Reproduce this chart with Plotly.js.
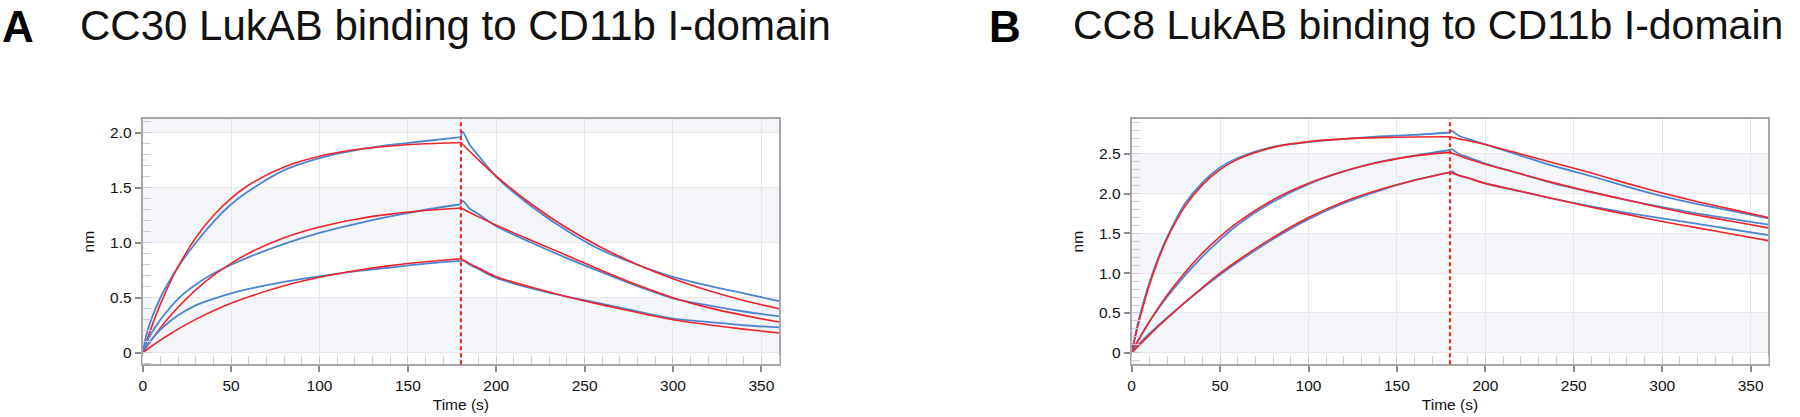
<!DOCTYPE html>
<html>
<head>
<meta charset="utf-8">
<script src="https://cdn.plot.ly/plotly-3.0.1.min.js"></script>
<style>
  html, body { margin: 0; padding: 0; background: #fff; }
  #chart { width: 1800px; height: 417px; }
</style>
</head>
<body>
<div id="chart"></div>
<script>
// time points (s); association 0-180, dissociation 180-360
const timeFit = [0, 2, 5, 10, 15, 20, 30, 40, 50, 60, 80, 100, 120, 140, 160, 180,
  185, 190, 200, 220, 240, 260, 280, 300, 320, 340, 360];
const timeData = [0, 2, 5, 10, 15, 20, 30, 40, 50, 60, 80, 100, 120, 140, 160, 180,
  181, 185, 190, 200, 220, 240, 260, 280, 300, 320, 340, 360];

// CC30 LukAB (nm) – red = fit, blue = measured
const cc30HighFit = [0, 0.098, 0.235, 0.442, 0.623, 0.783, 1.045, 1.248, 1.404, 1.525, 1.689, 1.787, 1.845, 1.879, 1.900, 1.912,
  1.830, 1.753, 1.606, 1.350, 1.134, 0.953, 0.801, 0.673, 0.566, 0.475, 0.400];
const cc30HighData = [0, 0.16, 0.31, 0.50, 0.65, 0.78, 1.00, 1.19, 1.35, 1.47, 1.66, 1.77, 1.84, 1.89, 1.925, 1.96,
  2.01, 1.89, 1.79, 1.60, 1.33, 1.11, 0.93, 0.80, 0.69, 0.61, 0.54, 0.47];
const cc30MidFit = [0, 0.048, 0.118, 0.226, 0.324, 0.414, 0.572, 0.703, 0.813, 0.905, 1.045, 1.143, 1.212, 1.260, 1.293, 1.316,
  1.275, 1.235, 1.16, 1.02, 0.885, 0.745, 0.615, 0.50, 0.41, 0.34, 0.28];
const cc30MidData = [0, 0.09, 0.18, 0.30, 0.40, 0.49, 0.62, 0.72, 0.80, 0.87, 0.99, 1.09, 1.17, 1.24, 1.30, 1.35,
  1.38, 1.31, 1.26, 1.15, 1.00, 0.86, 0.73, 0.605, 0.495, 0.43, 0.375, 0.33];
const cc30LowFit = [0, 0.024, 0.059, 0.114, 0.166, 0.215, 0.303, 0.381, 0.449, 0.509, 0.609, 0.686, 0.745, 0.792, 0.827, 0.855,
  0.81, 0.77, 0.69, 0.595, 0.51, 0.435, 0.365, 0.30, 0.255, 0.215, 0.18];
const cc30LowData = [0, 0.06, 0.12, 0.21, 0.28, 0.34, 0.43, 0.49, 0.54, 0.58, 0.645, 0.695, 0.74, 0.775, 0.81, 0.835,
  0.84, 0.80, 0.76, 0.68, 0.585, 0.51, 0.445, 0.375, 0.31, 0.28, 0.25, 0.23];

// CC8 LukAB (nm)
const cc8HighFit = [0, 0.196, 0.464, 0.849, 1.168, 1.433, 1.834, 2.111, 2.302, 2.432, 2.583, 2.655, 2.690, 2.706, 2.713, 2.717,
  2.69, 2.67, 2.62, 2.50, 2.38, 2.26, 2.13, 2.01, 1.90, 1.80, 1.70];
const cc8HighData = [0, 0.22, 0.50, 0.88, 1.19, 1.45, 1.87, 2.14, 2.33, 2.45, 2.59, 2.65, 2.69, 2.72, 2.74, 2.77,
  2.79, 2.73, 2.69, 2.62, 2.48, 2.34, 2.22, 2.09, 1.97, 1.87, 1.78, 1.69];
const cc8MidFit = [0, 0.083, 0.202, 0.389, 0.562, 0.723, 1.007, 1.252, 1.461, 1.639, 1.923, 2.131, 2.283, 2.395, 2.476, 2.52,
  2.48, 2.44, 2.37, 2.25, 2.13, 2.02, 1.92, 1.82, 1.73, 1.65, 1.57];
const cc8MidData = [0, 0.09, 0.21, 0.39, 0.55, 0.70, 0.97, 1.21, 1.42, 1.61, 1.90, 2.12, 2.28, 2.40, 2.48, 2.55,
  2.56, 2.50, 2.46, 2.38, 2.25, 2.12, 2.02, 1.92, 1.83, 1.75, 1.68, 1.61];
const cc8LowFit = [0, 0.045, 0.11, 0.22, 0.33, 0.43, 0.63, 0.82, 1.00, 1.16, 1.45, 1.70, 1.90, 2.05, 2.17, 2.27,
  2.23, 2.20, 2.13, 2.03, 1.93, 1.83, 1.74, 1.65, 1.57, 1.49, 1.41];
const cc8LowData = [0, 0.06, 0.13, 0.24, 0.34, 0.44, 0.63, 0.81, 0.98, 1.14, 1.43, 1.68, 1.88, 2.04, 2.17, 2.27,
  2.28, 2.23, 2.20, 2.13, 2.03, 1.93, 1.84, 1.76, 1.69, 1.62, 1.55, 1.48];

const switchTime = 180;
const xTickVals = [0, 50, 100, 150, 200, 250, 300, 350];
const cc30YTicks = [0, 0.5, 1, 1.5, 2];
const cc30YLabels = ['0', '0.5', '1.0', '1.5', '2.0'];
const cc8YTicks = [0, 0.5, 1, 1.5, 2, 2.5];
const cc8YLabels = ['0', '0.5', '1.0', '1.5', '2.0', '2.5'];
const cc30Title = 'CC30 LukAB binding to CD11b I-domain';
const cc8Title = 'CC8 LukAB binding to CD11b I-domain';

const FONT = 'Liberation Sans, Arial, Helvetica, sans-serif';
const BLUE = '#4b85d3';
const RED = '#f2232a';

// split a curve at the 180 s switch so each phase gets its own smooth line
function phaseTraces(t, y, color, width, xa, ya) {
  const k = t.indexOf(switchTime);
  const parts = [[0, k + 1], [k, t.length]];
  return parts.map(([a, b]) => ({
    type: 'scatter',
    mode: 'lines',
    x: t.slice(a, b),
    y: y.slice(a, b),
    xaxis: xa,
    yaxis: ya,
    line: { color: color, width: width, shape: 'spline', smoothing: 0.8 },
    hoverinfo: 'skip',
  }));
}

const traces = [];
[
  [cc30HighData, cc30HighFit], [cc30MidData, cc30MidFit], [cc30LowData, cc30LowFit],
].forEach(([d, f]) => {
  traces.push(...phaseTraces(timeData, d, BLUE, 1.8, 'x', 'y'));
  traces.push(...phaseTraces(timeFit, f, RED, 1.6, 'x', 'y'));
});
[
  [cc8HighData, cc8HighFit], [cc8MidData, cc8MidFit], [cc8LowData, cc8LowFit],
].forEach(([d, f]) => {
  traces.push(...phaseTraces(timeData, d, BLUE, 1.8, 'x2', 'y2'));
  traces.push(...phaseTraces(timeFit, f, RED, 1.6, 'x2', 'y2'));
});

const tickFont = { family: FONT, size: 15.5, color: '#111' };

function xAxis(domain, anchor) {
  return {
    domain: domain,
    anchor: anchor,
    range: [0, 360],
    tickmode: 'array',
    tickvals: xTickVals,
    ticks: 'outside',
    ticklen: 6,
    tickwidth: 2,
    tickcolor: '#8c8c8c',
    showline: true,
    linecolor: '#a6a6a6',
    linewidth: 2,
    mirror: true,
    showgrid: true,
    gridcolor: '#e8e8e8',
    gridwidth: 1,
    zeroline: false,
    tickfont: tickFont,
    title: { text: 'Time (s)', font: tickFont, standoff: 6 },
    minor: { tickmode: 'linear', tick0: 0, dtick: 10, ticks: 'inside', ticklen: 8, tickwidth: 1, tickcolor: '#cdc9ea', showgrid: false },
  };
}

function yAxis(domain, anchor, range, vals, labels) {
  return {
    domain: domain,
    anchor: anchor,
    range: range,
    tickmode: 'array',
    tickvals: vals,
    ticktext: labels,
    ticks: 'outside',
    ticklen: 6,
    tickwidth: 2,
    tickcolor: '#8c8c8c',
    showline: true,
    linecolor: '#a6a6a6',
    linewidth: 2,
    mirror: true,
    showgrid: true,
    gridcolor: '#e8e8e8',
    gridwidth: 1,
    zeroline: false,
    tickfont: tickFont,
    title: { text: 'nm', font: tickFont, standoff: 12 },
    minor: { tickmode: 'linear', tick0: 0, dtick: 0.1, ticks: 'inside', ticklen: 8, tickwidth: 1, tickcolor: '#cdc9ea', showgrid: false },
  };
}

// light alternating bands behind the plot
function bands(xref, yref, ticks, top) {
  const out = [];
  for (let i = 0; i < ticks.length; i += 2) {
    out.push({
      type: 'rect', layer: 'below', xref: xref + ' domain', yref: yref,
      x0: 0, x1: 1, y0: ticks[i], y1: i + 1 < ticks.length ? ticks[i + 1] : top,
      fillcolor: '#f4f6f9', line: { width: 0 },
    });
  }
  return out;
}

const shapes = [
  ...bands('x', 'y', cc30YTicks, 3),
  ...bands('x2', 'y2', cc8YTicks, 3),
  { type: 'line', xref: 'x', yref: 'y domain', x0: switchTime, x1: switchTime, y0: 0, y1: 1,
    line: { color: '#ee2a24', width: 2.2, dash: '4px,3px' } },
  { type: 'line', xref: 'x2', yref: 'y2 domain', x0: switchTime, x1: switchTime, y0: 0, y1: 1,
    line: { color: '#ee2a24', width: 2.2, dash: '4px,3px' } },
];

const annotations = [
  { text: '<b>A</b>', xref: 'paper', yref: 'paper', x: 0, y: 1.0, xanchor: 'left', yanchor: 'top',
    showarrow: false, font: { family: FONT, size: 44, color: '#000' } },
  { text: cc30Title, xref: 'paper', yref: 'paper', x: 78 / 1800, y: 1.0, xanchor: 'left', yanchor: 'top',
    showarrow: false, font: { family: FONT, size: 42, color: '#111' } },
  { text: '<b>B</b>', xref: 'paper', yref: 'paper', x: 987 / 1800, y: 1.0, xanchor: 'left', yanchor: 'top',
    showarrow: false, font: { family: FONT, size: 44, color: '#000' } },
  { text: cc8Title, xref: 'paper', yref: 'paper', x: 1071 / 1800, y: 1.0, xanchor: 'left', yanchor: 'top',
    showarrow: false, font: { family: FONT, size: 41, color: '#111' } },
];

const yDomain = [0.1264, 0.7146];
const layout = {
  width: 1800,
  height: 417,
  margin: { l: 0, r: 0, t: 0, b: 0 },
  paper_bgcolor: '#fff',
  plot_bgcolor: '#fff',
  showlegend: false,
  xaxis: xAxis([0.0793, 0.4328], 'y'),
  yaxis: yAxis(yDomain, 'x', [-0.105, 2.125], cc30YTicks, cc30YLabels),
  xaxis2: xAxis([0.6287, 0.9824], 'y2'),
  yaxis2: yAxis(yDomain, 'x2', [-0.146, 2.94], cc8YTicks, cc8YLabels),
  shapes: shapes,
  annotations: annotations,
};

Plotly.newPlot('chart', traces, layout, { staticPlot: true });
</script>
</body>
</html>
